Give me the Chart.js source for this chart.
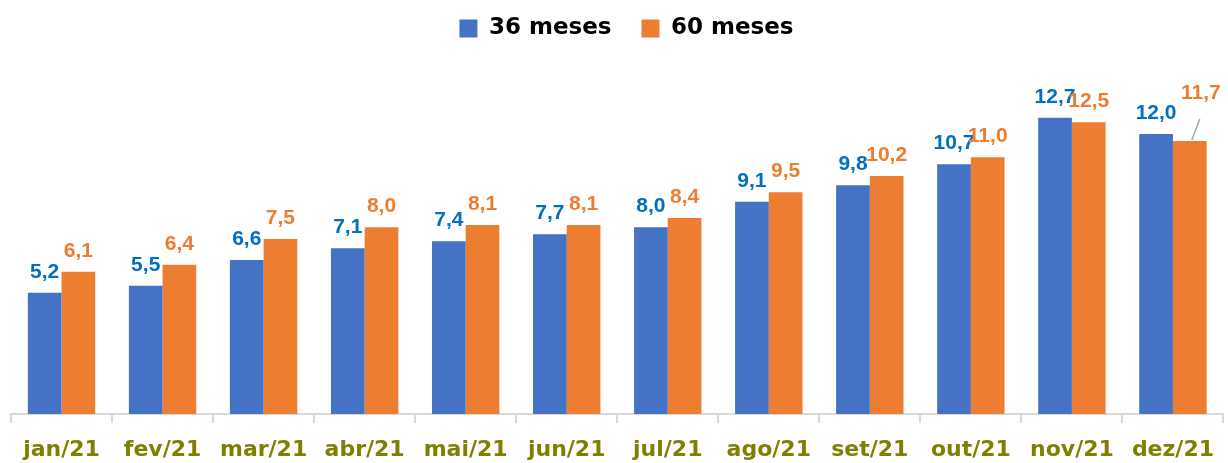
<!DOCTYPE html>
<html>
<head>
<meta charset="utf-8">
<script src="https://cdn.jsdelivr.net/npm/chart.js@4"></script>
<style>
  html, body { margin: 0; padding: 0; background: #fff; overflow: hidden; }
  #wrap { width: 1228px; height: 463px; }
</style>
</head>
<body>
<div id="wrap"><canvas id="chart"></canvas></div>
<script>
const months = ['jan/21', 'fev/21', 'mar/21', 'abr/21', 'mai/21', 'jun/21',
                'jul/21', 'ago/21', 'set/21', 'out/21', 'nov/21', 'dez/21'];
const meses36 = [5.2, 5.5, 6.6, 7.1, 7.4, 7.7, 8.0, 9.1, 9.8, 10.7, 12.7, 12.0];
const meses60 = [6.1, 6.4, 7.5, 8.0, 8.1, 8.1, 8.4, 9.5, 10.2, 11.0, 12.5, 11.7];
const seriesNames = ['36 meses', '60 meses'];

const labelColors = ['#0070C0', '#ED7D31'];

// value labels above bars (comma decimals)
const valueLabels = {
    id: 'valueLabels',
    afterLayout(chart) {
        // nudge legend a bit to the right
        chart.legend.left += 7;
        chart.legend.right += 7;
    },
    afterDatasetsDraw(chart) {
        const ctx = chart.ctx;
        ctx.save();
        ctx.font = 'bold 21px "Liberation Sans", Arial, sans-serif';
        ctx.textAlign = 'center';
        ctx.textBaseline = 'alphabetic';
        chart.data.datasets.forEach((ds, i) => {
            chart.getDatasetMeta(i).data.forEach((bar, j) => {
                const txt = ds.data[j].toFixed(1).replace('.', ',');
                let x = bar.x, y = bar.y - 15;
                if (i === 1 && j === ds.data.length - 1) {
                    // last label pushed up with a leader line
                    x = bar.x + 11;
                    y = bar.y - 42;
                    ctx.strokeStyle = '#a6a6a6';
                    ctx.lineWidth = 1.5;
                    ctx.beginPath();
                    ctx.moveTo(bar.x + 10, y + 20);
                    ctx.lineTo(bar.x + 2, bar.y - 1);
                    ctx.stroke();
                }
                ctx.fillStyle = labelColors[i];
                ctx.fillText(txt, x, y);
            });
        });
        ctx.restore();
    }
};

new Chart(document.getElementById('chart'), {
    type: 'bar',
    data: {
        labels: months,
        datasets: [
            { label: seriesNames[0], data: meses36, backgroundColor: '#4472C4' },
            { label: seriesNames[1], data: meses60, backgroundColor: '#ED7D31' }
        ]
    },
    options: {
        responsive: true,
        maintainAspectRatio: false,
        animation: false,
        categoryPercentage: 0.667,
        barPercentage: 1.0,
        layout: { padding: { left: 11, right: 0, top: -13, bottom: 0 } },
        plugins: {
            tooltip: { enabled: false },
            legend: {
                position: 'top',
                labels: {
                    boxWidth: 18, boxHeight: 18, padding: 30, color: '#000',
                    font: { family: '"DejaVu Sans", sans-serif', size: 23, weight: 'bold' }
                }
            }
        },
        scales: {
            x: {
                // labels may run off the bottom edge like in the original
                afterFit: s => { s.height = 49; },
                grid: { drawOnChartArea: false, drawTicks: true, tickLength: 9, color: '#d9d9d9', lineWidth: 2 },
                border: { color: '#d9d9d9', width: 2 },
                ticks: {
                    color: '#808000', padding: 14, maxRotation: 0, autoSkip: false,
                    font: { family: '"DejaVu Sans", sans-serif', size: 22, weight: 'bold' }
                }
            },
            y: { display: false, min: 0, max: 15.6 }
        }
    },
    plugins: [valueLabels]
});
</script>
</body>
</html>
